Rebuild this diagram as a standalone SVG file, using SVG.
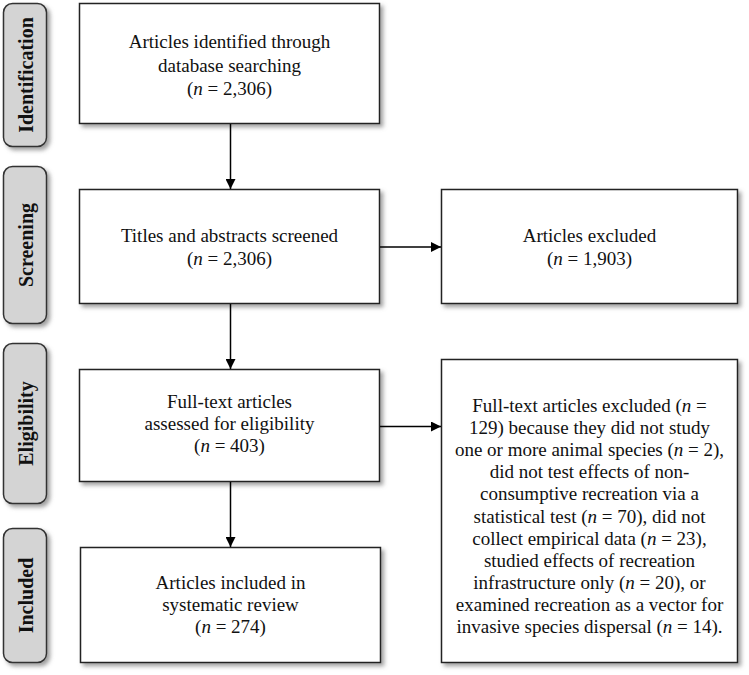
<svg xmlns="http://www.w3.org/2000/svg" width="749" height="675" viewBox="0 0 749 675">
  <defs>
    <filter id="sh" x="-10%" y="-10%" width="130%" height="130%">
      <feDropShadow dx="3" dy="3" stdDeviation="2" flood-color="#777" flood-opacity="0.7"/>
    </filter>
    <marker id="ah" viewBox="0 0 10 10" refX="10" refY="5" markerWidth="10" markerHeight="10" markerUnits="userSpaceOnUse" orient="auto">
      <path d="M0,0 L10,5 L0,10 Z" fill="#000"/>
    </marker>
    <style>
      .box { fill: #fff; stroke: #222; stroke-width: 1.5; filter: url(#sh); }
      .side { fill: #d4d4d4; stroke: #333; stroke-width: 1.5; filter: url(#sh); }
      .t { font-family: "Liberation Serif", "Times New Roman", Times, serif; font-size: 19px; fill: #111; text-anchor: middle; }
      .s { font-family: "Liberation Serif", "Times New Roman", Times, serif; font-size: 20px; font-weight: bold; fill: #111; text-anchor: middle; }
      .c { stroke: #000; stroke-width: 1.5; fill: none; marker-end: url(#ah); }
    </style>
  </defs>
  <rect width="749" height="675" fill="#fff"/>

  <g id="side-identification">
    <rect class="side" x="3.5" y="3.5" width="43" height="143" rx="9"/>
    <text class="s" transform="translate(33,75) rotate(-90)">Identification</text>
  </g>
  <g id="side-screening">
    <rect class="side" x="3.5" y="166.5" width="43" height="157" rx="9"/>
    <text class="s" transform="translate(33,245) rotate(-90)">Screening</text>
  </g>
  <g id="side-eligibility">
    <rect class="side" x="3.5" y="343.5" width="43" height="160" rx="9"/>
    <text class="s" transform="translate(33,423.5) rotate(-90)">Eligibility</text>
  </g>
  <g id="side-included">
    <rect class="side" x="3.5" y="528.5" width="43" height="134" rx="9"/>
    <text class="s" transform="translate(33,595.5) rotate(-90)">Included</text>
  </g>

  <g id="identified">
    <rect class="box" x="79.5" y="3.5" width="300" height="120"/>
    <text class="t" x="229.5" y="48">Articles identified through</text>
    <text class="t" x="229.5" y="71.5">database searching</text>
    <text class="t" x="229.5" y="95">(<tspan font-style="italic">n</tspan> = 2,306)</text>
  </g>

  <g id="screened">
    <rect class="box" x="79.5" y="189.5" width="300" height="114"/>
    <text class="t" x="229.5" y="242">Titles and abstracts screened</text>
    <text class="t" x="229.5" y="265">(<tspan font-style="italic">n</tspan> = 2,306)</text>
  </g>

  <g id="excluded1">
    <rect class="box" x="441.5" y="189.5" width="296" height="114"/>
    <text class="t" x="589.5" y="242">Articles excluded</text>
    <text class="t" x="589.5" y="265">(<tspan font-style="italic">n</tspan> = 1,903)</text>
  </g>

  <g id="fulltext">
    <rect class="box" x="79.5" y="369.5" width="300" height="112"/>
    <text class="t" x="229.5" y="408">Full-text articles</text>
    <text class="t" x="229.5" y="430">assessed for eligibility</text>
    <text class="t" x="229.5" y="452">(<tspan font-style="italic">n</tspan> = 403)</text>
  </g>

  <g id="excluded2">
    <rect class="box" x="441.5" y="359.5" width="296" height="303"/>
    <text class="t" x="589.5" y="412">Full-text articles excluded (<tspan font-style="italic">n</tspan> =</text>
    <text class="t" x="589.5" y="434">129) because they did not study</text>
    <text class="t" x="589.5" y="456">one or more animal species (<tspan font-style="italic">n</tspan> = 2),</text>
    <text class="t" x="589.5" y="478">did not test effects of non-</text>
    <text class="t" x="589.5" y="500">consumptive recreation via a</text>
    <text class="t" x="589.5" y="522.5">statistical test (<tspan font-style="italic">n</tspan> = 70), did not</text>
    <text class="t" x="589.5" y="544.5">collect empirical data (<tspan font-style="italic">n</tspan> = 23),</text>
    <text class="t" x="589.5" y="566.5">studied effects of recreation</text>
    <text class="t" x="589.5" y="588.5">infrastructure only (<tspan font-style="italic">n</tspan> = 20), or</text>
    <text class="t" x="589.5" y="611">examined recreation as a vector for</text>
    <text class="t" x="589.5" y="633">invasive species dispersal (<tspan font-style="italic">n</tspan> = 14).</text>
  </g>

  <g id="included">
    <rect class="box" x="80.5" y="547.5" width="300" height="115"/>
    <text class="t" x="230.5" y="589">Articles included in</text>
    <text class="t" x="230.5" y="611">systematic review</text>
    <text class="t" x="230.5" y="633">(<tspan font-style="italic">n</tspan> = 274)</text>
  </g>

  <g id="connectors">
    <line class="c" x1="230.5" y1="124" x2="230.5" y2="189"/>
    <line class="c" x1="380" y1="247" x2="441" y2="247"/>
    <line class="c" x1="230.5" y1="304" x2="230.5" y2="369"/>
    <line class="c" x1="380" y1="426.5" x2="441" y2="426.5"/>
    <line class="c" x1="230.5" y1="482" x2="230.5" y2="547"/>
  </g>
</svg>
